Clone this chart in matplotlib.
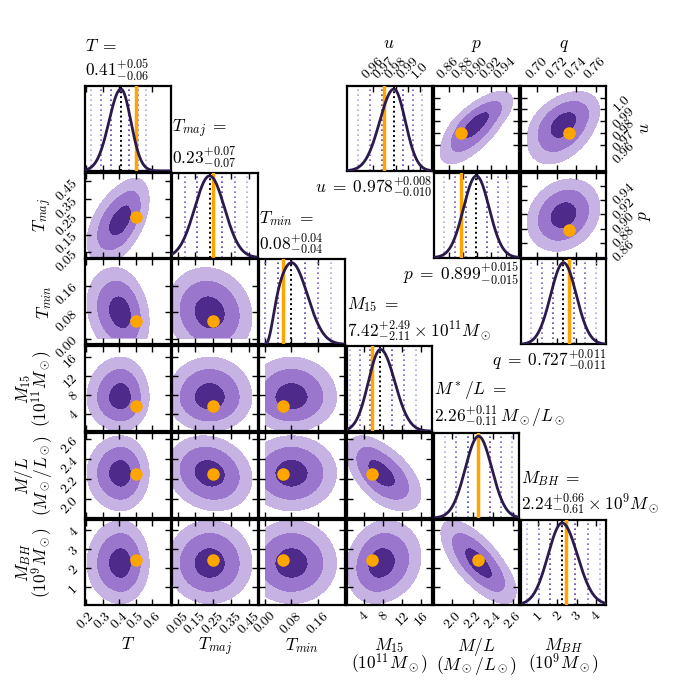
import numpy as np
import matplotlib.pyplot as plt

plt.rcParams["font.family"] = "serif"
plt.rcParams["font.serif"] = ["cmr10"]
plt.rcParams["mathtext.fontset"] = "cm"
plt.rcParams["axes.unicode_minus"] = False
plt.rcParams["axes.linewidth"] = 1.6

# --- main corner: medians, asymmetric errors, true values, axis limits ---
med = [0.41, 0.23, 0.08, 7.42, 2.26, 2.24]
err_lo = [0.06, 0.07, 0.04, 2.11, 0.11, 0.61]
err_hi = [0.05, 0.07, 0.04, 2.49, 0.11, 0.66]
truth = [0.50, 0.25, 0.053, 5.6, 2.25, 2.45]
lims = [(0.194, 0.709), (0.02, 0.50), (-0.017, 0.241), (0.3, 18.2), (1.813, 2.663), (0.1, 4.52)]
bounds = [None, None, 0.0, None, None, None]
tick_vals = [[0.2, 0.3, 0.4, 0.5, 0.6], [0.05, 0.15, 0.25, 0.35, 0.45], [0.0, 0.08, 0.16],
             [4, 8, 12, 16], [2.0, 2.2, 2.4, 2.6], [1, 2, 3, 4]]
tick_text = [["0.2", "0.3", "0.4", "0.5", "0.6"], ["0.05", "0.15", "0.25", "0.35", "0.45"],
             ["0.00", "0.08", "0.16"], ["4", "8", "12", "16"], ["2.0", "2.2", "2.4", "2.6"],
             ["1", "2", "3", "4"]]
axis_label = [r"$T$", r"$T_{maj}$", r"$T_{min}$", "$M_{15}$\n$(10^{11}M_\\odot)$",
              "$M/L$\n$(M_\\odot/L_\\odot)$", "$M_{BH}$\n$(10^9M_\\odot)$"]
title_sym = ["T", "T_{maj}", "T_{min}", "M_{15}", "M^*/L", "M_{BH}"]
title_unit = ["", "", "", r"\times 10^{11} M_\odot", r"\,M_\odot/L_\odot", r"\times 10^{9} M_\odot"]
# (row, col, correlation)
corr = [(1, 0, 0.5), (2, 0, -0.2), (2, 1, -0.1), (3, 0, 0.0), (3, 1, 0.0), (3, 2, 0.0),
        (4, 0, 0.0), (4, 1, -0.15), (4, 2, 0.0), (4, 3, -0.55),
        (5, 0, 0.0), (5, 1, 0.0), (5, 2, 0.0), (5, 3, 0.15), (5, 4, -0.7)]

# --- inset corner for u, p, q ---
geo = ["u", "p", "q"]
geo_med = [0.978, 0.899, 0.727]
geo_lo = [0.010, 0.015, 0.011]
geo_hi = [0.008, 0.015, 0.011]
geo_truth = [0.970, 0.878, 0.733]
geo_lims = [(0.938, 1.010), (0.839, 0.959), (0.683, 0.771)]
geo_ticks = [[0.96, 0.97, 0.98, 0.99, 1.0], [0.86, 0.88, 0.90, 0.92, 0.94], [0.70, 0.72, 0.74, 0.76]]
geo_tick_text = [["0.96", "0.97", "0.98", "0.99", "1.0"], ["0.86", "0.88", "0.90", "0.92", "0.94"],
                 ["0.70", "0.72", "0.74", "0.76"]]
# (y var, x var, correlation)
geo_corr = [(0, 1, 0.7), (0, 2, 0.4), (1, 2, 0.2)]

fill_cols = ["#4e2a8a", "#9a76cd", "#c6b3e3"]
sig_cols = ["#5b3c9c", "#7d5fc2", "#b8a3e3"]
curve_col = "#2b1a4c"
orange = "#ffa500"
radii = [1.25, 2.45, 3.4]
kde_widen = 1.2   # smoothed 1D histograms look a bit wider than the quoted errors
tick_fs = 10
lab_fs = 12.5


def zscore(x, m, sl, sh):
    return np.where(x < m, (x - m) / sl, (x - m) / sh)


def draw_1d(ax, m, sl, sh, tr, lim, bound=None):
    x = np.linspace(lim[0], lim[1], 500)
    y = np.exp(-0.5 * zscore(x, m, sl * kde_widen, sh * kde_widen) ** 2)
    if bound is not None:
        # smoothed density falls to zero at the prior edge
        y = y * (1 - np.exp(-np.clip((x - bound) / (0.6 * sl), 0, None) ** 2))
        y[x < bound] = np.nan
    for k, c in zip([3, 2, 1], sig_cols[::-1]):
        ax.axvline(m - k * sl, color=c, ls=(0, (1, 2)), lw=1.2)
        ax.axvline(m + k * sh, color=c, ls=(0, (1, 2)), lw=1.2)
    ax.axvline(m, color="k", ls=(0, (1, 1.5)), lw=1.4)
    ax.axvline(tr, color=orange, lw=2.5, zorder=3)
    ax.plot(x, y / np.nanmax(y), color=curve_col, lw=2, zorder=4)
    ax.set_xlim(lim)
    ax.set_ylim(0, 1.04)
    ax.set_yticks([])


def draw_2d(ax, px, py, rho, xb=None, yb=None):
    # px, py: (median, err_lo, err_hi, truth, lim)
    gx = np.linspace(px[4][0], px[4][1], 260)
    gy = np.linspace(py[4][0], py[4][1], 260)
    X, Y = np.meshgrid(gx, gy)
    zx = zscore(X, px[0], px[1], px[2])
    zy = zscore(Y, py[0], py[1], py[2])
    Q = (zx ** 2 - 2 * rho * zx * zy + zy ** 2) / (1 - rho ** 2)
    if xb is not None:
        Q[X < xb] = 1e3
    if yb is not None:
        Q[Y < yb] = 1e3
    ax.contourf(X, Y, Q, levels=[-1] + [r ** 2 for r in radii], colors=fill_cols)
    ax.plot(px[3], py[3], "o", color=orange, ms=8, zorder=5)
    ax.set_xlim(px[4])
    ax.set_ylim(py[4])


fig, axes = plt.subplots(6, 6, figsize=(6.92, 6.92), dpi=100)
fig.subplots_adjust(left=0.123, right=0.876, bottom=0.126, top=0.876, wspace=0.02, hspace=0.02)

for ax in axes.flat:
    ax.axis("off")
    ax.tick_params(direction="in", top=True, right=True, length=4, width=1, labelsize=tick_fs,
                   labelbottom=False, labelleft=False)

# main lower triangle
for r in range(6):
    for c in range(r + 1):
        ax = axes[r, c]
        ax.axis("on")
        if r == c:
            draw_1d(ax, med[c], err_lo[c], err_hi[c], truth[c], lims[c], bounds[c])
            ax.text(0, 1.03, f"${title_sym[c]}\\;=$\n${med[c]:.2f}^{{+{err_hi[c]:.2f}}}_{{-{err_lo[c]:.2f}}}{title_unit[c]}$",
                    transform=ax.transAxes, ha="left", va="bottom", fontsize=lab_fs)
        else:
            rho = [k[2] for k in corr if k[0] == r and k[1] == c][0]
            draw_2d(ax, (med[c], err_lo[c], err_hi[c], truth[c], lims[c]),
                    (med[r], err_lo[r], err_hi[r], truth[r], lims[r]), rho, bounds[c], bounds[r])
            ax.set_yticks(tick_vals[r])
            if c == 0:
                ax.set_yticklabels(tick_text[r])
                ax.tick_params(labelleft=True, labelrotation=45, axis="y")
                ax.set_ylabel(axis_label[r], fontsize=lab_fs, linespacing=0.75)
                ax.yaxis.set_label_coords(-0.37, 0.5)
        ax.set_xticks(tick_vals[c])
        if r == 5:
            ax.set_xticklabels(tick_text[c])
            ax.tick_params(labelbottom=True, labelrotation=45, axis="x")
            ax.set_xlabel(axis_label[c], fontsize=lab_fs, linespacing=0.75)
            ax.xaxis.set_label_coords(0.5, -0.37)

# inset upper triangle for u, p, q
for i in range(3):
    for j in range(i, 3):
        ax = axes[i, 3 + j]
        ax.axis("on")
        if i == j:
            draw_1d(ax, geo_med[i], geo_lo[i], geo_hi[i], geo_truth[i], geo_lims[i])
            ax.text(1, -0.04, f"${geo[i]}\\;=\\;{geo_med[i]:.3f}^{{+{geo_hi[i]:.3f}}}_{{-{geo_lo[i]:.3f}}}$",
                    transform=ax.transAxes, ha="right", va="top", fontsize=lab_fs)
        else:
            rho = [k[2] for k in geo_corr if k[0] == i and k[1] == j][0]
            draw_2d(ax, (geo_med[j], geo_lo[j], geo_hi[j], geo_truth[j], geo_lims[j]),
                    (geo_med[i], geo_lo[i], geo_hi[i], geo_truth[i], geo_lims[i]), rho)
            ax.set_yticks(geo_ticks[i])
            if j == 2:
                ax.set_yticklabels(geo_tick_text[i])
                ax.tick_params(labelright=True, labelrotation=45, axis="y")
                ax.yaxis.set_label_position("right")
                ax.set_ylabel(f"${geo[i]}$", fontsize=lab_fs)
                ax.yaxis.set_label_coords(1.36, 0.5)
        ax.set_xticks(geo_ticks[j])
        if i == 0:
            ax.set_xticklabels(geo_tick_text[j])
            ax.tick_params(labeltop=True, labelrotation=45, axis="x")
            ax.xaxis.set_label_position("top")
            ax.set_xlabel(f"${geo[j]}$", fontsize=lab_fs)
            ax.xaxis.set_label_coords(0.5, 1.45)

fig.savefig("out.png", dpi=100)
